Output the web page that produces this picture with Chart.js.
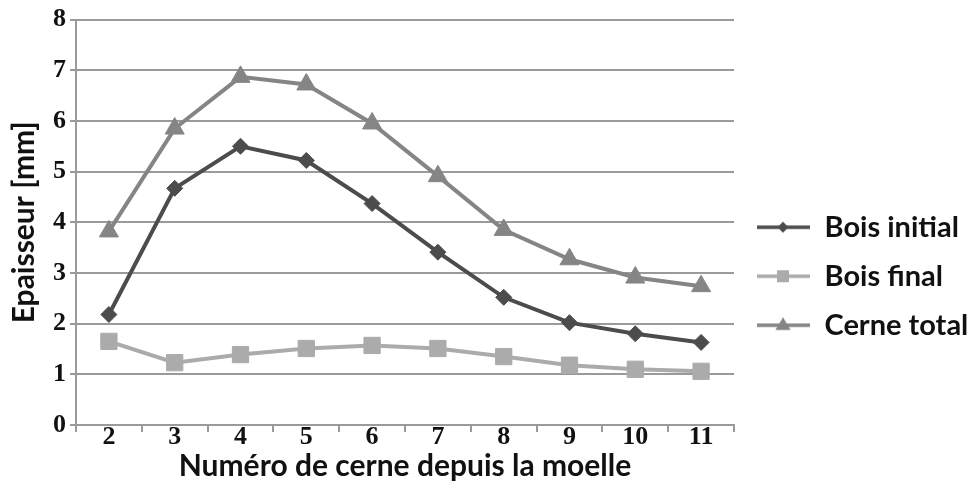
<!DOCTYPE html>
<html>
<head>
<meta charset="utf-8">
<script src="https://cdn.jsdelivr.net/npm/chart.js@4"></script>
<style>
  html, body { margin: 0; padding: 0; background: #ffffff; }
  #wrap { width: 973px; height: 484px; position: relative; }
</style>
</head>
<body>
<div id="wrap"><canvas id="c" width="973" height="484"></canvas></div>
<script>
const categories = ['2', '3', '4', '5', '6', '7', '8', '9', '10', '11'];
const boisInitial = [2.18, 4.67, 5.50, 5.22, 4.37, 3.41, 2.52, 2.02, 1.80, 1.63];
const boisFinal   = [1.65, 1.23, 1.39, 1.51, 1.57, 1.51, 1.35, 1.18, 1.10, 1.06];
const cerneTotal  = [3.82, 5.85, 6.87, 6.72, 5.95, 4.91, 3.85, 3.27, 2.91, 2.74];
const seriesNames = ['Bois initial', 'Bois final', 'Cerne total'];
const yTitle = 'Epaisseur [mm]';
const xTitle = 'Numéro de cerne depuis la moelle';

const colInit = '#4c4c4c';
const colFinal = '#ababab';
const colTotal = '#858585';

const titleFont = "Lato, 'Open Sans', sans-serif";
const tickFont = "'Liberation Serif', 'DejaVu Serif', serif";

function legendIcon(color, style, r) {
  const cv = document.createElement('canvas');
  cv.width = 56; cv.height = 20;
  const g = cv.getContext('2d');
  g.strokeStyle = color; g.fillStyle = color; g.lineWidth = 3.5;
  g.beginPath(); g.moveTo(3, 10); g.lineTo(56, 10); g.stroke();
  g.beginPath();
  const cx = 29, cy = 10;
  if (style === 'diamond') {
    g.moveTo(cx, cy - r); g.lineTo(cx + r, cy); g.lineTo(cx, cy + r); g.lineTo(cx - r, cy); g.closePath();
  } else if (style === 'square') {
    g.rect(cx - r, cy - r, 2 * r, 2 * r);
  } else {
    g.moveTo(cx, cy - r); g.lineTo(cx + r * 0.95, cy + r * 0.6); g.lineTo(cx - r * 0.95, cy + r * 0.6); g.closePath();
  }
  g.fill();
  return cv;
}
const icons = [legendIcon(colInit, 'diamond', 5.5), legendIcon(colFinal, 'square', 6), legendIcon(colTotal, 'triangle', 8)];

new Chart(document.getElementById('c'), {
  type: 'line',
  data: {
    labels: categories,
    datasets: [
      { label: seriesNames[0], data: boisInitial, borderColor: colInit, backgroundColor: colInit,
        borderWidth: 4, pointStyle: 'rectRot', pointRadius: 8, pointBorderWidth: 1, tension: 0 },
      { label: seriesNames[1], data: boisFinal, borderColor: colFinal, backgroundColor: colFinal,
        borderWidth: 4, pointStyle: 'rect', pointRadius: 11.5, pointBorderWidth: 1, tension: 0 },
      { label: seriesNames[2], data: cerneTotal, borderColor: colTotal, backgroundColor: colTotal,
        borderWidth: 4, pointStyle: 'triangle', pointRadius: 11, pointBorderWidth: 1, tension: 0 }
    ]
  },
  options: {
    responsive: false,
    animation: false,
    devicePixelRatio: 1,
    layout: { padding: { top: 18, right: 0, left: 0, bottom: 0 } },
    plugins: {
      tooltip: { enabled: false },
      legend: {
        position: 'right',
        align: 'center',
        maxWidth: 239,
        title: { display: true, text: ' ', padding: { top: 48, bottom: 0 }, font: { size: 2 } },
        labels: {
          usePointStyle: true,
          pointStyleWidth: 56,
          padding: 20,
          color: '#111111',
          font: { family: titleFont, size: 29, weight: 'bold' },
          generateLabels(chart) {
            return chart.data.datasets.map((ds, i) => ({
              text: ds.label,
              pointStyle: icons[i],
              fillStyle: ds.borderColor,
              strokeStyle: ds.borderColor,
              lineWidth: 0,
              fontColor: '#111111',
              hidden: false,
              datasetIndex: i
            }));
          }
        }
      }
    },
    scales: {
      x: {
        offset: true,
        afterFit(scale) { scale.height = 59; },
        grid: { display: true, offset: true, drawOnChartArea: false, tickLength: 7, color: '#9a9a9a', lineWidth: 2 },
        border: { color: '#9a9a9a', width: 2 },
        ticks: { color: '#111111', font: { family: tickFont, size: 26, weight: 'bold' }, padding: -10, maxRotation: 0 },
        title: { display: true, text: xTitle, color: '#111111', font: { family: titleFont, size: 30, weight: 'bold' }, padding: { top: 0, bottom: 0 } }
      },
      y: {
        min: 0, max: 8,
        afterFit(scale) { scale.width = 76; },
        ticks: { stepSize: 1, color: '#111111', font: { family: tickFont, size: 26, weight: 'bold' }, padding: 4 },
        grid: { color: '#9a9a9a', lineWidth: 2, tickLength: 6 },
        border: { color: '#9a9a9a', width: 2 },
        title: { display: true, text: yTitle, color: '#111111', font: { family: titleFont, size: 30, weight: 'bold' }, padding: { top: 6, bottom: 0 } }
      }
    }
  }
});
</script>
</body>
</html>
